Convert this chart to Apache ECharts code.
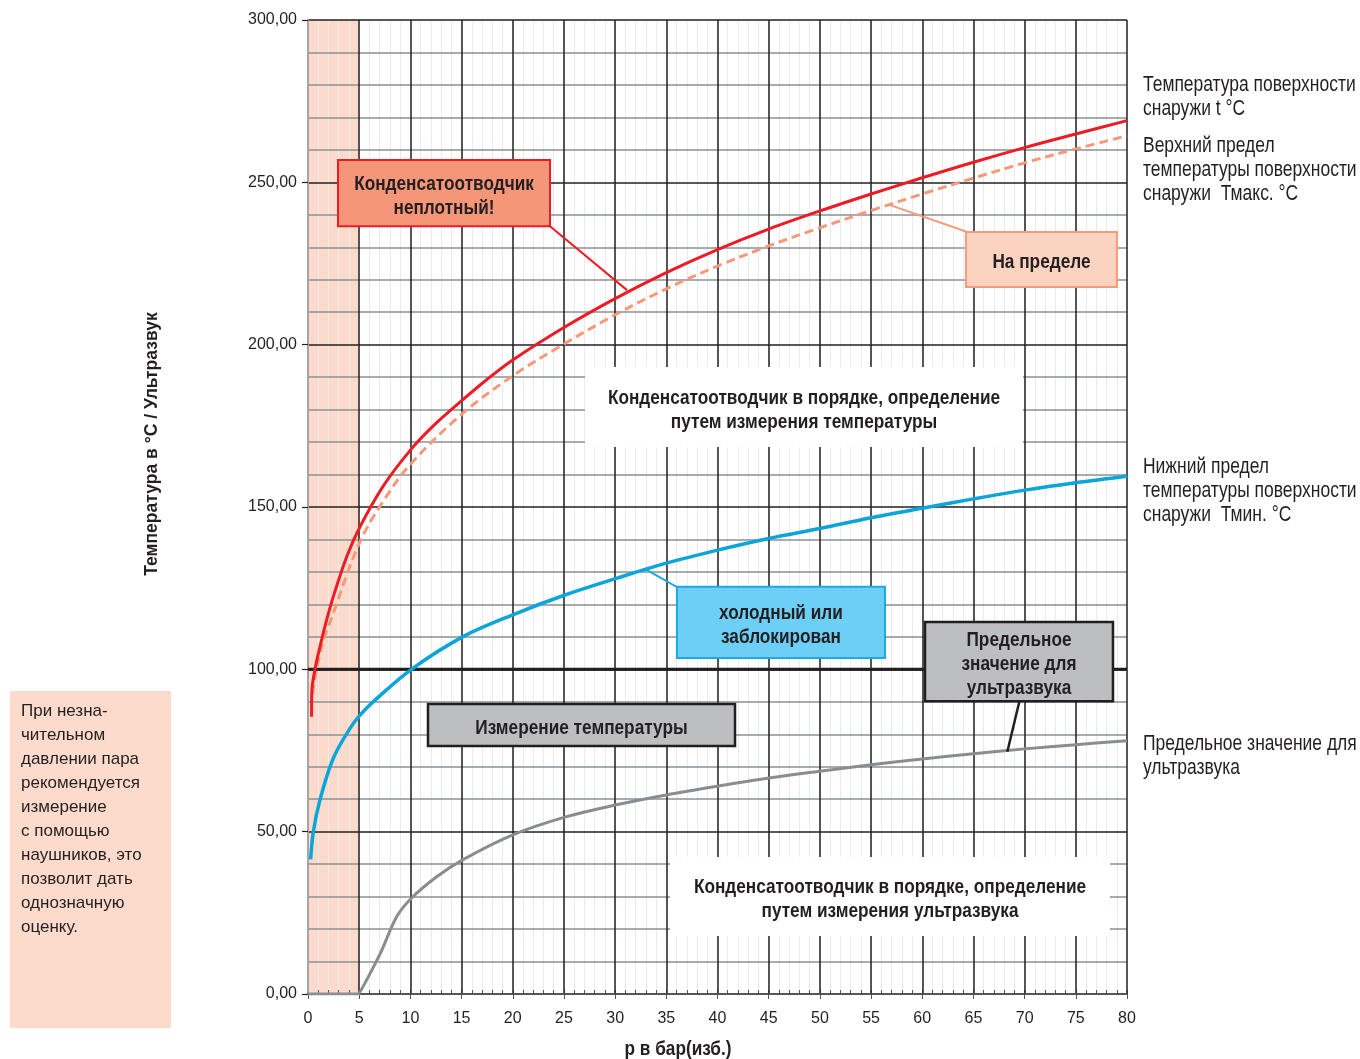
<!DOCTYPE html>
<html><head><meta charset="utf-8">
<script src="https://cdn.jsdelivr.net/npm/echarts@6/dist/echarts.min.js"></script>
<style>html,body{margin:0;padding:0;background:#fff}#c{width:1360px;height:1059px}</style>
</head><body><div id="c"></div>
<script>
// ---------- data ----------
const xTickLabels = ['0','5','10','15','20','25','30','35','40','45','50','55','60','65','70','75','80'];
const yTickLabels = ['0,00','50,00','100,00','150,00','200,00','250,00','300,00'];

// Surface temperature t °C (red)
const pRed = [0.35,0.37,0.68,1.17,1.82,2.47,3.78,5.08,7.36,10.1,12.24,15.1,17.45,20,25,30,35,40,45,50,55,60,65,70,75,80];
const tRed = [85.4,93,100,107,115.2,122.4,134.7,143.9,156.5,167.9,175.0,183,189.2,195.3,205.3,214.2,222.2,229.3,235.6,241.2,246.4,251.4,256.2,260.7,264.9,269];
// Upper limit Tmax (dashed)
const pMax = [0.45,1.25,2.47,5.08,7.52,10.1,15.1,20,25,30,35,40,45,50,55,60,65,70,75,80];
const tMax = [92.5,106,117.3,139.3,152.6,163.5,178.8,190.4,200.2,209.2,217.2,224.2,230.4,236,241.3,246.4,251.3,256,260.3,264.3];
// Lower limit Tmin (blue)
const pMin = [0.26,0.52,1.17,2.47,4.1,5.08,6.54,10.1,15.1,20,25.1,30.1,35,40.1,45.1,50,55,60,65,70,75,80];
const tMin = [41.5,50,59.8,72.6,81.8,85.9,90.5,100,110,116.8,122.9,128,132.7,136.8,140.4,143.4,146.7,149.6,152.5,155.2,157.5,159.5];
// Ultrasound limit (grey)
const pUS = [0,4.99,5,7.03,8.66,10.1,12.57,15.1,20,25,30,35,40,45,50,55,60,65,70,75,80];
const tUS = [0,0,0,12.3,23.8,29.5,36.1,41.3,49,54.4,58.2,61.3,64,66.5,68.6,70.6,72.4,74,75.5,76.8,78];
// Reference line
const refLevel = 100;
const refRange = [0, 80];

// ---------- fonts ----------
function fontAvailable(name){
  const c=document.createElement('canvas').getContext('2d');
  const s='Конденсатоотводчик abcdefghijklm 0123456789';
  c.font='40px monospace'; const a=c.measureText(s).width;
  c.font='40px "'+name+'", monospace'; const b=c.measureText(s).width;
  c.font='40px serif'; const a2=c.measureText(s).width;
  c.font='40px "'+name+'", serif'; const b2=c.measureText(s).width;
  return (a!==b) || (a2!==b2);
}
const hasNarrow = fontAvailable('Liberation Sans Narrow');
const NF = hasNarrow ? '"Liberation Sans Narrow"' : '"Liberation Sans"';
const NSX = hasNarrow ? 1 : 0.82;   // horizontal compression to emulate a narrow face
const nb = s => 'bold ' + s + 'px ' + NF + ', sans-serif';
const nr = s => s + 'px ' + NF + ', sans-serif';
const TXT = '#231f20';

function ntext(t, x, y, font, align, z){
  return {type: 'text', z: z || 61, silent: true, x: x, y: y, scaleX: NSX, scaleY: 1,
    style: {text: t, x: 0, y: 0, textAlign: align, textVerticalAlign: 'middle', font: font, fill: TXT}};
}

// ---------- chart ----------
const chart = echarts.init(document.getElementById('c'), null, {renderer:'canvas'});
const pink = '#fddbcc';
const areaColors = []; for (let i=0;i<80;i++) areaColors.push(i < 5 ? pink : 'rgba(0,0,0,0)');

const pairs = (xs, ys) => xs.map((x,i)=>[x, ys[i]]);
const LBL_FONT = '"Liberation Sans", Arial, sans-serif';

const option = {
  animation: false,
  backgroundColor: '#fff',
  grid: {left: 308, top: 20, width: 819, height: 974, outerBoundsMode: 'none', containLabel: false},
  xAxis: [{
    type: 'value', min: 0, max: 80, interval: 5, position: 'bottom', z: 3,
    axisLine: {show: true, onZero: false, lineStyle: {color: '#555', width: 1.5, type: 'solid'}},
    axisTick: {show: true, inside: false, length: 5, lineStyle: {color: '#555', width: 1, type: 'solid'}},
    axisLabel: {show: true, margin: 17, fontSize: 16, color: TXT, fontFamily: LBL_FONT,
      formatter: v => xTickLabels[Math.round(v/5)], showMinLabel: true, showMaxLabel: true, hideOverlap: false},
    splitLine: {show: true, showMinLine: false, lineStyle: {color: '#231f20', width: 1.5, type: 'solid'}},
    splitArea: {show: false}
  }, {
    type: 'value', min: 0, max: 80, interval: 1, position: 'bottom', gridIndex: 0, z: 0,
    axisLine: {show: false, onZero: false},
    axisTick: {show: true, inside: true, length: 4, lineStyle: {color: '#555', width: 1, type: 'solid'}},
    axisLabel: {show: false},
    splitLine: {show: true, showMinLine: false, showMaxLine: false, lineStyle: {color: '#ebebeb', width: 1, type: 'solid'}},
    splitArea: {show: true, areaStyle: {color: areaColors}}
  }],
  yAxis: [{
    type: 'value', min: 0, max: 300, interval: 50, z: 1,
    axisLine: {show: true, onZero: false, lineStyle: {color: '#a3a5a8', width: 2, type: 'solid'}},
    axisTick: {show: true, inside: false, length: 6, lineStyle: {color: '#231f20', width: 1.2, type: 'solid'}},
    axisLabel: {show: true, margin: 11, fontSize: 16, color: TXT, fontFamily: LBL_FONT,
      formatter: v => yTickLabels[Math.round(v/50)], showMinLabel: true, showMaxLabel: true, hideOverlap: false},
    splitLine: {show: true, lineStyle: {color: '#231f20', width: 1.5, type: 'solid'}},
    minorTick: {show: false, splitNumber: 5},
    minorSplitLine: {show: true, lineStyle: {color: '#8d9093', width: 1.5, type: 'solid'}}
  }],
  series: [
    {type: 'line', name: 'ref', xAxisIndex: 0, yAxisIndex: 0, z: 2, silent: true,
     data: refRange.map(x => [x, refLevel]), symbol: 'none', lineStyle: {color: '#231f20', width: 3, type: 'solid'}},
    {type: 'line', name: 'Tmin', xAxisIndex: 0, yAxisIndex: 0, z: 3, data: pairs(pMin, tMin), symbol: 'none',
     smooth: 0.35, lineStyle: {color: '#0ba5d9', width: 3.5, type: 'solid'}},
    {type: 'line', name: 'US', xAxisIndex: 0, yAxisIndex: 0, z: 3, data: pairs(pUS, tUS), symbol: 'none',
     smooth: 0.35, lineStyle: {color: '#8a8d90', width: 3, type: 'solid'}},
    {type: 'line', name: 'Tmax', xAxisIndex: 0, yAxisIndex: 0, z: 4, data: pairs(pMax, tMax), symbol: 'none',
     smooth: 0.35, lineStyle: {color: '#f4997a', width: 3, type: [9, 5]}},
    {type: 'line', name: 't', xAxisIndex: 0, yAxisIndex: 0, z: 5, data: pairs(pRed, tRed), symbol: 'none',
     smooth: 0.35, lineStyle: {color: '#ed1c24', width: 3, type: 'solid'}}
  ]
};
chart.setOption(option);

// ---------- annotations (data coordinates) ----------
const P = (x, y) => chart.convertToPixel({xAxisIndex: 0, yAxisIndex: 0}, [x, y]);
const boxes = [
  {x1: 27.06, x2: 69.84, y1: 193.1, y2: 168.5, fill: '#ffffff', stroke: null, lw: 0,
   lines: ['Конденсатоотводчик в порядке, определение', 'путем измерения температуры'], dy: 3},
  {x1: 35.36, x2: 78.34, y1: 42.2, y2: 17.9, fill: '#ffffff', stroke: null, lw: 0,
   lines: ['Конденсатоотводчик в порядке, определение', 'путем измерения ультразвука'], dy: 3},
  {x1: 2.93, x2: 23.64, y1: 256.9, y2: 236.5, fill: '#f69679', stroke: '#ed1c24', lw: 2,
   lines: ['Конденсатоотводчик', 'неплотный!'], dy: 3},
  {x1: 64.27, x2: 79.02, y1: 234.7, y2: 217.8, fill: '#fcd2c0', stroke: '#f59b7c', lw: 2,
   lines: ['На пределе'], dy: 3},
  {x1: 36.04, x2: 56.36, y1: 125.4, y2: 103.5, fill: '#6dcff6', stroke: '#1fa9e1', lw: 2,
   lines: ['холодный или', 'заблокирован'], dy: 3},
  {x1: 11.72, x2: 41.71, y1: 89.3, y2: 76.4, fill: '#bcbec0', stroke: '#231f20', lw: 2.5,
   lines: ['Измерение температуры'], dy: 3},
  {x1: 60.27, x2: 78.63, y1: 114.6, y2: 90.2, fill: '#bcbec0', stroke: '#231f20', lw: 2.5,
   lines: ['Предельное', 'значение для', 'ультразвука'], dy: 3}
];
const leaders = [
  {a: [23.64, 236.5], b: [31.16, 216.8], color: '#ed1c24', w: 2},
  {a: [64.34, 234.8], b: [56.65, 243.2], color: '#f59b7c', w: 2},
  {a: [36.01, 125.4], b: [33.08, 130.6], color: '#1fa9e1', w: 2},
  {a: [69.48, 90.0], b: [68.31, 74.6], color: '#231f20', w: 2.5}
];

const g = [];
leaders.forEach(l => {
  const a = P(l.a[0], l.a[1]), b = P(l.b[0], l.b[1]);
  g.push({type: 'line', z: 50, silent: true, shape: {x1: a[0], y1: a[1], x2: b[0], y2: b[1]},
          style: {stroke: l.color, lineWidth: l.w}});
});
boxes.forEach(bx => {
  const p1 = P(bx.x1, bx.y1), p2 = P(bx.x2, bx.y2);
  const x = Math.min(p1[0], p2[0]), y = Math.min(p1[1], p2[1]);
  const w = Math.abs(p2[0]-p1[0]), h = Math.abs(p2[1]-p1[1]);
  g.push({type: 'rect', z: 60, silent: true, shape: {x, y, width: w, height: h},
          style: {fill: bx.fill, stroke: bx.stroke || 'none', lineWidth: bx.lw}});
  const cx = x + w/2, cy = y + h/2 + bx.dy;
  const n = bx.lines.length;
  bx.lines.forEach((t, i) => {
    g.push(ntext(t, cx, cy + (i - (n-1)/2) * 24, nb(21), 'center'));
  });
});

// Right-side labels (outside plot)
const rightLabels = [
  {y: 85, lines: ['Температура поверхности', 'снаружи t °C']},
  {y: 146, lines: ['Верхний предел', 'температуры поверхности', 'снаружи  Тмакс. °C']},
  {y: 467, lines: ['Нижний предел', 'температуры поверхности', 'снаружи  Тмин. °C']},
  {y: 744, lines: ['Предельное значение для', 'ультразвука']}
];
rightLabels.forEach(r => r.lines.forEach((t, i) => {
  g.push(ntext(t, 1143, r.y + i*24, nr(21.3), 'left'));
}));

// Left note
const noteLines = ['При незна-', 'чительном', 'давлении пара', 'рекомендуется', 'измерение', 'с помощью',
                   'наушников, это', 'позволит дать', 'однозначную', 'оценку.'];
g.push({type: 'rect', z: 10, silent: true, shape: {x: 10, y: 691, width: 161, height: 337}, style: {fill: pink}});
noteLines.forEach((t, i) => {
  g.push({type: 'text', z: 61, silent: true,
    style: {text: t, x: 21, y: 711 + i*24, textAlign: 'left', textVerticalAlign: 'middle',
            font: '17px ' + LBL_FONT, fill: TXT}});
});

// Axis titles
g.push({type: 'text', z: 61, silent: true, x: 152, y: 444, rotation: Math.PI/2,
  style: {text: 'Температура в °C / Ультразвук', x: 0, y: 0, textAlign: 'center', textVerticalAlign: 'middle',
          font: 'bold 17.5px ' + LBL_FONT, fill: TXT}});
g.push(ntext('р в бар(изб.)', 678, 1049, nb(21), 'center'));

chart.setOption({graphic: {elements: g}});
</script>
</body></html>
